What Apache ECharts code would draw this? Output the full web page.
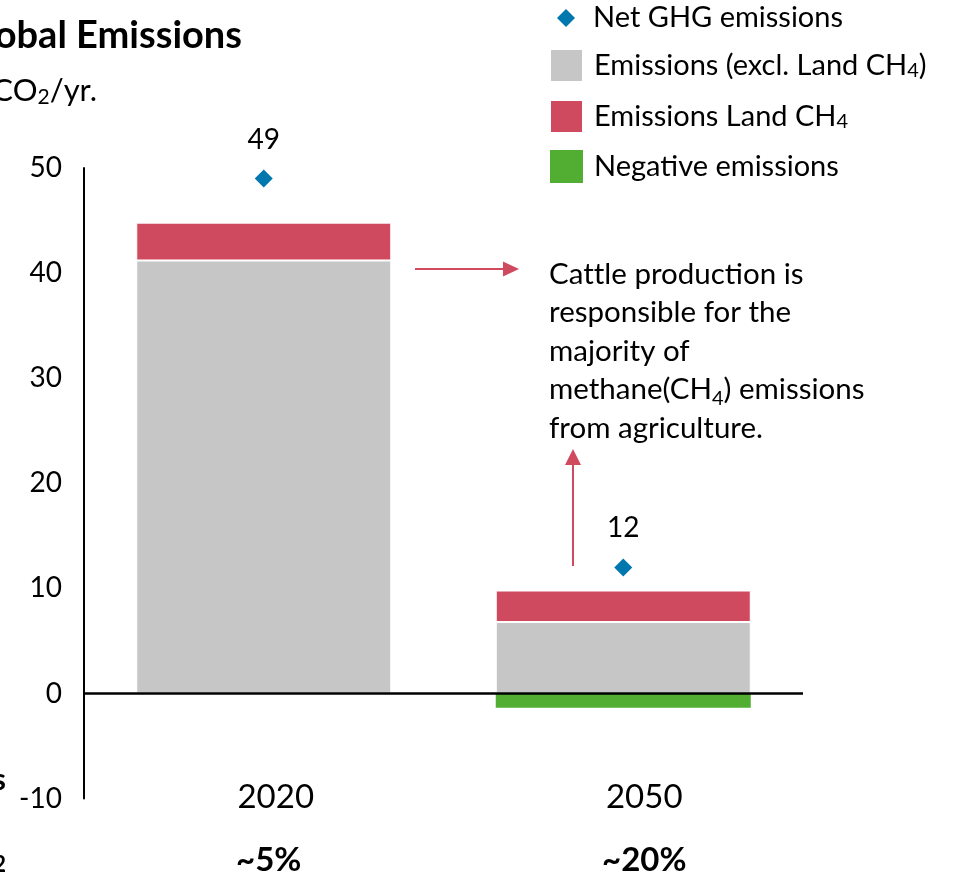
<!DOCTYPE html>
<html>
<head>
<meta charset="utf-8">
<script src="https://cdn.jsdelivr.net/npm/echarts@6/dist/echarts.min.js"></script>
<style>
  html, body { margin: 0; padding: 0; background: #fff; }
  #chart { width: 954px; height: 876px; }
</style>
</head>
<body>
<div id="chart"></div>
<script>
// Global emissions by year, GtCO2/yr.
const years = ['2020', '2050'];
const landCh4Share = ['~5%', '~20%'];
const emissionsExclLandCh4 = [41.2, 6.8];
const emissionsLandCh4 = [3.6, 3.0];
const negativeEmissions = [null, -1.35];
const netGhgEmissions = [49, 12];
const yTicks = { min: -10, max: 50, step: 10 };

const FONT = 'Lato, "Open Sans", sans-serif';
const GREY = '#C6C6C6';
const RED = '#D04A5F';
const GREEN = '#52AE32';
const BLUE = '#0078AE';

const sub = { fontSize: 20, fontFamily: FONT, verticalAlign: 'bottom', lineHeight: 8, color: '#000' };
const legendSub = { fontSize: 20, fontFamily: FONT, verticalAlign: 'bottom', padding: [14, 0, 0, 0], color: '#000' };

// per-category nudges for the two-line year / share captions
const yearPad = [24, 42];
const sharePad = [10, 42];

const chart = echarts.init(document.getElementById('chart'), null, { renderer: 'canvas' });

const richX = {};
years.forEach((y, i) => {
  richX['y' + i] = { fontSize: 33, fontFamily: FONT, color: '#000', lineHeight: 63, padding: [0, 0, 0, yearPad[i]] };
  richX['p' + i] = { fontSize: 33, fontWeight: 'bold', fontFamily: FONT, color: '#000', lineHeight: 63, padding: [0, 0, 0, sharePad[i]] };
});

const option = {
  backgroundColor: '#fff',
  animation: false,
  textStyle: { fontFamily: FONT, color: '#000' },
  grid: { left: 84, right: 151, top: 168, bottom: 77.4, containLabel: false, outerBoundsMode: 'none' },
  legend: [
    {
      data: ['Net GHG emissions'],
      left: 557, top: 3, padding: 0,
      icon: 'diamond', itemWidth: 18, itemHeight: 18,
      selectedMode: false,
      textStyle: { fontSize: 29, fontFamily: FONT, color: '#000', lineHeight: 30, padding: [0, 0, 0, 13] }
    },
    {
      data: ['Emissions (excl. Land CH4)', 'Emissions Land CH4', 'Negative emissions'],
      orient: 'vertical',
      left: 549, top: 48, padding: 0,
      icon: 'rect', itemWidth: 33, itemHeight: 33, itemGap: 16,
      selectedMode: false,
      formatter: name => name.replace('CH4', 'CH{s|4}'),
      textStyle: { fontSize: 29, fontFamily: FONT, color: '#000', lineHeight: 30, padding: [0, 0, 0, 6], rich: { s: legendSub } }
    }
  ],
  xAxis: {
    type: 'category',
    data: years,
    axisLine: { show: false },
    axisTick: { show: false },
    axisLabel: {
      fontSize: 33, fontFamily: FONT, color: '#000',
      verticalAlign: 'middle', margin: 30, lineHeight: 63,
      formatter: (v, i) => '{y' + i + '|' + v + '}\n{p' + i + '|' + landCh4Share[i] + '}',
      rich: richX
    }
  },
  yAxis: {
    type: 'value',
    min: yTicks.min, max: yTicks.max, interval: yTicks.step,
    axisLine: { show: true, lineStyle: { color: '#000', width: 2 } },
    axisTick: { show: false },
    splitLine: { show: false },
    axisLabel: { fontSize: 28, fontFamily: FONT, color: '#000', margin: 22 }
  },
  series: [
    {
      name: 'Emissions (excl. Land CH4)', type: 'bar', stack: 'e',
      data: emissionsExclLandCh4, barWidth: 255,
      itemStyle: { color: GREY, borderColor: '#fff', borderWidth: 1 }
    },
    {
      name: 'Emissions Land CH4', type: 'bar', stack: 'e',
      data: emissionsLandCh4, barWidth: 255,
      itemStyle: { color: RED, borderColor: '#fff', borderWidth: 1 }
    },
    {
      name: 'Negative emissions', type: 'bar', stack: 'e',
      data: negativeEmissions, barWidth: 255,
      itemStyle: { color: GREEN },
      markLine: {
        silent: true, symbol: 'none', label: { show: false },
        lineStyle: { color: '#000', width: 2.5, type: 'solid' },
        data: [{ yAxis: 0 }]
      }
    },
    {
      name: 'Net GHG emissions', type: 'scatter',
      data: netGhgEmissions, symbol: 'diamond', symbolSize: 18,
      itemStyle: { color: BLUE, opacity: 1 },
      label: { show: true, position: 'top', distance: 16, fontSize: 28, fontFamily: FONT, color: '#000' },
      z: 5
    }
  ],
  graphic: [
    // heading, running off the left edge
    {
      type: 'text', right: 954 - 242, top: 17,
      style: { text: 'Global Emissions', font: 'bold 38px ' + FONT, fill: '#000' }
    },
    {
      type: 'text', right: 954 - 97, top: 74,
      style: { text: 'Gt CO{s|2}/yr.', fontSize: 31, fontFamily: FONT, fill: '#000', lineHeight: 34,
               rich: { s: { fontSize: 21, fontFamily: FONT, verticalAlign: 'bottom', lineHeight: 8 } } }
    },
    // row captions at the left edge
    {
      type: 'text', right: 954 - 6, top: 765,
      style: { text: 'Land CH4 emissions', font: 'bold 30px ' + FONT, fill: '#000' }
    },
    {
      type: 'text', right: 954 - 6, top: 846,
      style: { text: 'share of net CO{s|2}', fontSize: 30, fontWeight: 'bold', fontFamily: FONT, fill: '#000',
               rich: { s: { fontSize: 22, fontWeight: 'bold', fontFamily: FONT, verticalAlign: 'bottom', lineHeight: 16 } } }
    },
    // note on cattle methane
    {
      type: 'text', left: 549, top: 255,
      style: {
        text: 'Cat\u200Ctle production is\nresponsible for the\nmajority of\nmethane(CH{s|4}) emissions\nfrom agriculture.',
        fontSize: 29.5, fontFamily: FONT, fill: '#000', lineHeight: 38.5,
        rich: { s: Object.assign({}, sub, { lineHeight: 10 }) }
      }
    },
    // arrows pointing at the note
    { type: 'line', shape: { x1: 415, y1: 269, x2: 505, y2: 269 }, style: { stroke: RED, lineWidth: 2 } },
    { type: 'polygon', shape: { points: [[503, 261.5], [519, 269], [503, 276.5]] }, style: { fill: RED } },
    { type: 'line', shape: { x1: 573, y1: 566, x2: 573, y2: 462 }, style: { stroke: RED, lineWidth: 2 } },
    { type: 'polygon', shape: { points: [[565, 465], [573, 449], [581, 465]] }, style: { fill: RED } }
  ]
};

chart.setOption(option);
</script>
</body>
</html>
